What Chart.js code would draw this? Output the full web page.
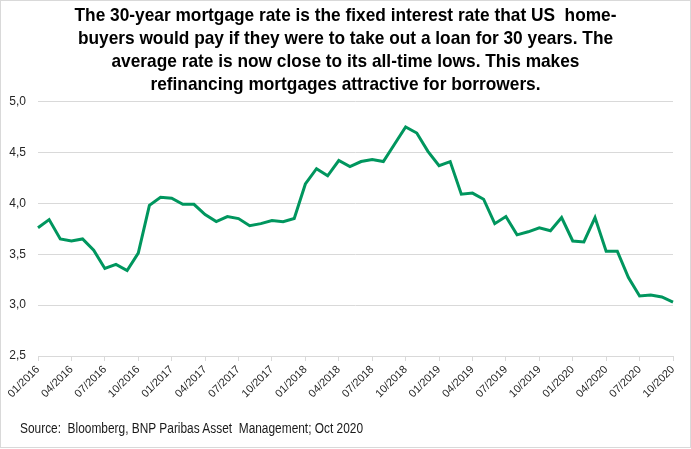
<!DOCTYPE html>
<html lang="en">
<head>
<meta charset="UTF-8">
<title>30-year mortgage rate</title>
<style>
  body { margin: 0; background: #fff; }
  #wrap { position: relative; width: 691px; height: 448px; border: 1px solid #d9d9d9; box-sizing: border-box; overflow: hidden; }
  #chart { position: absolute; left: -1px; top: -1px; }
  #title { position: absolute; left: -1px; top: 2px; width: 691px; text-align: center;
           font: bold 19px/23px "Liberation Sans", Arial, sans-serif; color: #000;
           transform: scaleX(0.91); transform-origin: 345.5px 0; white-space: pre; }
  #source { position: absolute; left: 19px; top: 419px; font: 14px/16px "Liberation Sans", Arial, sans-serif;
            color: #1a1a1a; white-space: pre; transform: scaleX(0.85); transform-origin: 0 0; }
</style>
</head>
<body>
<div id="wrap">
  <canvas id="chart" width="691" height="449"></canvas>
  <div id="title"></div>
  <div id="source">Source:  Bloomberg, BNP Paribas Asset  Management; Oct 2020</div>
</div>
<script src="https://cdn.jsdelivr.net/npm/chart.js@4/dist/chart.umd.min.js"></script>
<script>
  // Monatliche Werte 01/2016 - 10/2020
  const years = ['2016', '2017', '2018', '2019', '2020'];
  const months = ['01', '02', '03', '04', '05', '06', '07', '08', '09', '10', '11', '12'];
  const rate2016 = [3.76, 3.84, 3.65, 3.63, 3.65, 3.54, 3.36, 3.40, 3.34, 3.51, 3.98, 4.06];
  const rate2017 = [4.05, 3.99, 3.99, 3.89, 3.82, 3.87, 3.85, 3.78, 3.80, 3.83, 3.82, 3.85];
  const rate2018 = [4.19, 4.34, 4.27, 4.42, 4.36, 4.41, 4.43, 4.41, 4.58, 4.75, 4.69, 4.51];
  const rate2019 = [4.37, 4.41, 4.09, 4.10, 4.04, 3.80, 3.87, 3.69, 3.72, 3.76, 3.73, 3.86];
  const rate2020 = [3.63, 3.62, 3.86, 3.53, 3.53, 3.27, 3.09, 3.10, 3.08, 3.03];

  const titleLines = [
    'The 30-year mortgage rate is the fixed interest rate that US  home-',
    'buyers would pay if they were to take out a loan for 30 years. The',
    'average rate is now close to its all-time lows. This makes',
    'refinancing mortgages attractive for borrowers.'
  ];

  // Titel als Text einsetzen
  document.getElementById('title').textContent = titleLines.join('\n');

  // Labels bauen
  const labels = [];
  years.forEach((y) => {
    months.forEach((m) => labels.push(m + '/' + y));
  });
  const rates = rate2016.concat(rate2017, rate2018, rate2019, rate2020);
  labels.length = rates.length;

  const font = '"Liberation Sans", Arial, sans-serif';
  const gridGrey = '#d9d9d9';

  var ctx = document.getElementById('chart').getContext('2d');
  var myChart = new Chart(ctx, {
    type: 'line',
    data: {
      labels: labels,
      datasets: [{
        data: rates,
        borderColor: '#00965e',
        borderWidth: 3,
        pointRadius: 0,
        tension: 0,
        fill: false
      }]
    },
    options: {
      responsive: false,
      animation: false,
      layout: { padding: { left: 0, right: 18, top: 101.5, bottom: 29 } },
      plugins: {
        legend: { display: false },
        tooltip: { enabled: false },
        title: { display: false }
      },
      scales: {
        x: {
          grid: {
            drawOnChartArea: false,
            tickLength: 5,
            tickColor: (c) => (c.index % 3 === 0 ? gridGrey : 'rgba(0,0,0,0)')
          },
          border: { color: gridGrey },
          ticks: {
            autoSkip: false,
            minRotation: 45,
            maxRotation: 45,
            padding: 2,
            color: '#262626',
            font: { family: font, size: 11 },
            callback: function (v, i) { return i % 3 === 0 ? this.getLabelForValue(v) : ''; }
          },
          afterFit: (s) => { s.height = 64; }
        },
        y: {
          min: 2.5,
          max: 5,
          grid: { color: gridGrey, drawTicks: false },
          border: { display: false },
          ticks: {
            stepSize: 0.5,
            padding: 12,
            color: '#262626',
            font: { family: font, size: 12 },
            callback: (v) => v.toFixed(1).replace('.', ',')
          },
          afterFit: (s) => { s.width = 38; }
        }
      }
    }
  });
</script>
</body>
</html>
